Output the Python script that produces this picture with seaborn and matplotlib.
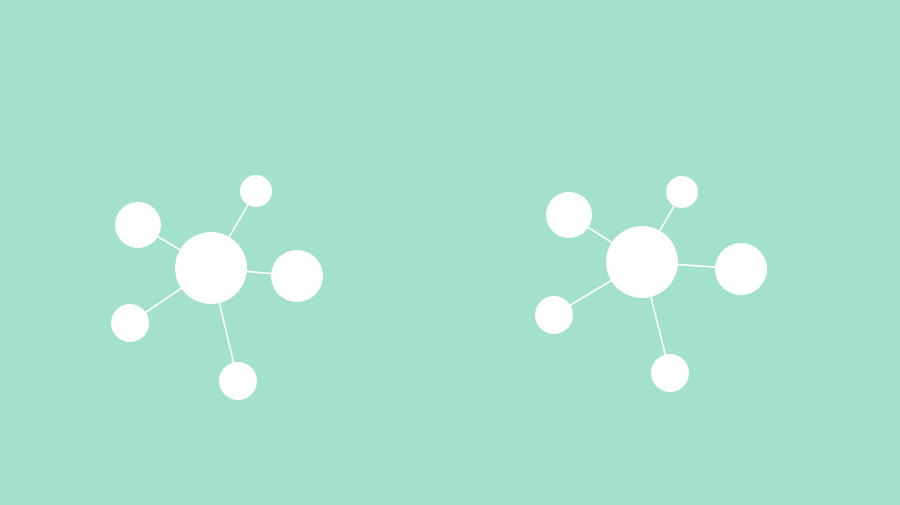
import matplotlib
matplotlib.use("Agg")
import matplotlib.pyplot as plt
import seaborn as sns
import pandas as pd

# node positions (pixel space) and radii for the two star graphs
left_x = [211, 138, 256, 297, 130, 238]
left_y = [269, 226, 192, 277, 324, 382]
right_x = [642, 569, 682, 741, 554, 670]
right_y = [263, 216, 193, 270, 316, 374]
radius = [36, 23, 16, 26, 19, 19]

bg = "#a3e1cb"
fig = plt.figure(figsize=(9, 5.06), dpi=100, facecolor=bg)
ax = fig.add_axes([0, 0, 1, 1])
ax.set_facecolor(bg)
ax.set_xlim(0, 900)
ax.set_ylim(506, 0)
ax.axis("off")

for xs, ys in [(left_x, left_y), (right_x, right_y)]:
    for i in range(1, len(xs)):
        ax.plot([xs[0], xs[i]], [ys[0], ys[i]], color="white", lw=1.2, zorder=1)
    df = pd.DataFrame({"x": xs, "y": ys, "s": [(1.44 * r) ** 2 for r in radius]})
    sns.scatterplot(data=df, x="x", y="y", s=df["s"], color="white",
                    edgecolor="none", ax=ax, legend=False, zorder=2)

ax.set_xlim(0, 900)
ax.set_ylim(506, 0)
ax.axis("off")
fig.savefig("out.png", dpi=100, facecolor=bg)
